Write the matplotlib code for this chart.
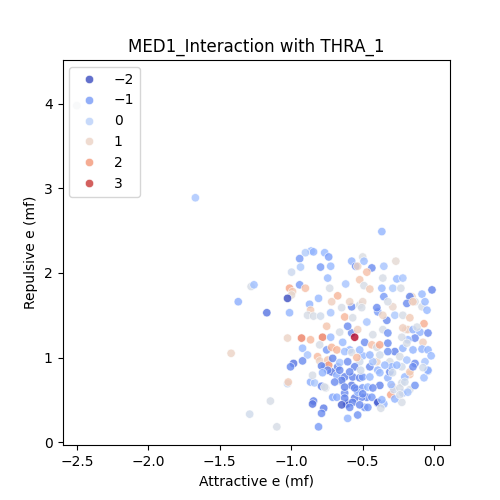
import matplotlib
matplotlib.use("Agg")
import matplotlib.pyplot as plt
import seaborn as sns
import numpy as np

title = "MED1_Interaction with THRA_1"
xlabel = "Attractive e (mf)"
ylabel = "Repulsive e (mf)"

pts = [
    # outliers
    (-2.50, 3.98, 0.5), (-1.67, 2.89, -0.3), (-1.42, 1.05, 1.0), (-1.37, 1.66, -0.7),
    (-1.29, 0.33, 0.4), (-1.10, 0.18, 0.5), (-1.28, 1.84, 0.5), (-1.26, 1.86, -0.4),
    (-1.17, 1.53, -1.5),
    # lower left
    (-1.025, 0.69, 0.2), (-1.02, 0.71, 1.2), (-1.145, 0.485, 0.5), (-0.864, 0.71, -0.7),
    (-0.836, 0.70, -0.2), (-0.85, 0.79, 0.5), (-0.787, 0.66, -1.3), (-0.758, 0.64, 0.5),
    (-0.716, 0.83, -1.5), (-0.709, 0.53, -0.8), (-0.843, 0.485, -1.3), (-0.85, 0.45, -1.5),
    (-0.772, 0.40, -1.4), (-0.787, 0.34, -1.2), (-0.808, 0.18, -1.0),
    # lower right
    (-0.68, 0.79, -0.7), (-0.646, 0.71, 0.5), (-0.625, 0.77, -1.3), (-0.569, 0.77, -1.3),
    (-0.576, 0.67, -1.4), (-0.52, 0.76, -1.3), (-0.50, 0.77, -1.0), (-0.54, 0.62, -1.4),
    (-0.50, 0.64, -1.0), (-0.463, 0.65, -0.5), (-0.47, 0.53, -1.2), (-0.506, 0.53, -1.2),
    (-0.435, 0.53, -1.0), (-0.555, 0.52, -1.4), (-0.625, 0.58, -1.2), (-0.604, 0.46, -2.0),
    (-0.61, 0.45, -1.6), (-0.569, 0.47, -1.3), (-0.485, 0.41, -1.1), (-0.463, 0.41, -1.0),
    (-0.393, 0.46, -1.4), (-0.393, 0.47, -1.8), (-0.351, 0.45, -0.6), (-0.372, 0.40, 0.5),
    (-0.379, 0.67, -1.3), (-0.323, 0.76, -0.6), (-0.309, 0.83, -1.2), (-0.288, 0.65, 1.3),
    (-0.302, 0.56, 1.8), (-0.281, 0.62, 0.3), (-0.225, 0.70, 0.5), (-0.218, 0.58, -0.6),
    (-0.169, 0.62, 0.5), (-0.133, 0.67, -1.1), (-0.169, 0.80, 1.3), (-0.204, 0.77, -0.5),
    (-0.07, 0.76, -0.4), (-0.042, 0.84, -0.7), (-0.225, 0.47, 0.5), (-0.274, 0.51, -0.6),
    (-0.604, 0.28, -0.6), (-0.534, 0.32, -1.1), (-0.68, 0.53, -0.7),
    # middle left
    (-1.011, 1.53, -0.6), (-0.871, 1.63, -0.6), (-0.864, 1.56, 1.2), (-0.885, 1.50, 0.5),
    (-0.843, 1.49, 0.5), (-0.794, 1.49, 0.4), (-0.723, 1.53, -0.3), (-0.716, 1.66, 1.1),
    (-0.751, 1.37, 1.3), (-1.025, 1.23, 1.0), (-0.927, 1.23, 2.3), (-0.864, 1.21, 1.5),
    (-0.78, 1.24, 2.3), (-0.80, 1.15, 0.5), (-0.723, 1.24, -0.5), (-0.92, 1.11, -0.5),
    (-0.885, 1.03, -0.3), (-0.92, 0.96, -1.2), (-0.983, 0.93, -1.5), (-1.004, 0.89, -1.2),
    (-0.815, 1.01, 1.5), (-0.80, 0.96, 1.0), (-0.751, 1.09, -1.0), (-0.744, 0.97, 1.3),
    (-0.765, 0.89, -0.6), (-0.737, 0.91, 2.0), (-0.716, 1.12, 1.6), (-0.709, 0.99, -1.3),
    (-0.787, 0.90, -1.3), (-0.744, 0.85, -1.2),
    # upper left
    (-0.86, 2.26, -0.5), (-0.843, 2.25, -0.6), (-0.90, 2.24, -0.1), (-0.765, 2.24, -0.5),
    (-0.737, 2.19, -0.9), (-0.94, 2.17, -1.0), (-0.934, 2.07, -0.2), (-0.794, 2.07, -1.0),
    (-0.723, 2.08, -0.5), (-0.997, 2.01, 0.3), (-1.011, 1.82, 1.8), (-0.99, 1.78, 1.2),
    (-0.997, 1.74, 0.8), (-0.94, 1.86, -1.0), (-0.90, 1.82, 1.4), (-0.744, 1.94, -0.5),
    (-0.73, 1.82, 0.5), (-1.025, 1.70, -2.0), (-0.808, 1.70, -0.5),
    # upper right
    (-0.365, 2.49, -0.6), (-0.576, 2.14, -0.6), (-0.548, 2.08, -1.2), (-0.534, 2.08, 1.0),
    (-0.499, 2.19, 0.6), (-0.49, 2.14, -0.4), (-0.435, 2.06, -1.2), (-0.47, 2.01, 1.4),
    (-0.351, 2.08, -0.3), (-0.267, 2.14, 0.8), (-0.618, 1.87, -0.3), (-0.52, 1.92, 1.3),
    (-0.49, 1.85, 0.5), (-0.449, 1.81, 1.2), (-0.358, 1.94, 0.5), (-0.365, 1.82, -0.5),
    (-0.26, 1.93, -0.5), (-0.218, 1.94, -0.3), (-0.288, 1.82, -0.2), (-0.232, 1.82, 0.5),
    (-0.351, 1.72, -1.0), (-0.154, 1.72, 1.0), (-0.169, 1.72, -1.3), (-0.084, 1.75, -0.5),
    (-0.014, 1.80, -1.3), (-0.674, 1.73, 1.6),
    # centre
    (-0.625, 1.48, 1.6), (-0.646, 1.59, 0.5), (-0.576, 1.60, -1.2), (-0.59, 1.66, 1.0),
    (-0.52, 1.62, 0.5), (-0.499, 1.66, 0.9), (-0.506, 1.59, 0.5), (-0.47, 1.42, -0.3),
    (-0.576, 1.29, -1.2), (-0.534, 1.33, 1.1), (-0.604, 1.37, -1.2),
    (-0.66, 1.30, 0.5), (-0.639, 1.18, -0.5), (-0.59, 1.09, -0.6), (-0.68, 1.09, 1.6),
    (-0.625, 1.07, -0.4), (-0.485, 1.18, -1.2), (-0.435, 1.15, 1.4), (-0.40, 1.12, 0.5),
    (-0.499, 1.02, -0.5), (-0.52, 0.95, 0.4), (-0.555, 0.89, -1.3), (-0.513, 0.85, 0.4),
    (-0.449, 0.89, -1.2), (-0.40, 0.95, 1.0), (-0.393, 0.85, -0.6), (-0.358, 1.33, 0.5),
    (-0.428, 1.27, 0.5), (-0.323, 1.29, -1.1), (-0.323, 1.17, -1.2), (-0.33, 1.44, -1.2),
    (-0.393, 1.54, -1.0), (-0.358, 1.50, 1.0), (-0.288, 1.60, 0.9), (-0.323, 1.66, 0.5),
    (-0.274, 1.50, -0.2), (-0.218, 1.50, 0.5), (-0.169, 1.47, 1.2), (-0.19, 1.64, -1.2),
    (-0.133, 1.66, 0.5), (-0.084, 1.60, 0.5), (-0.049, 1.56, -0.5), (-0.07, 1.40, 1.7),
    (-0.197, 1.33, 0.5), (-0.183, 1.33, 1.1), (-0.147, 1.33, -0.6), (-0.098, 1.30, -0.6),
    (-0.042, 1.29, -1.2), (-0.077, 1.18, 1.1), (-0.133, 1.23, -1.2), (-0.183, 1.21, -0.5),
    (-0.225, 1.24, 0.5), (-0.274, 1.07, -1.3), (-0.218, 1.11, -0.6), (-0.19, 1.17, 0.5),
    (-0.147, 1.09, -0.6), (-0.084, 1.10, -0.6), (-0.042, 1.09, -0.6), (-0.239, 1.01, 0.5),
    (-0.19, 0.97, -0.3), (-0.133, 0.93, -1.2), (-0.063, 0.95, -0.3), (-0.042, 0.85, -0.6),
    (-0.309, 0.95, 0.5), (-0.295, 0.89, -0.6), (-0.225, 0.89, 0.4), (-0.169, 0.83, 1.2),
    (-0.428, 0.95, -0.3), (-0.674, 0.89, -1.3),
    # extras
    (-0.569, 1.47, 0.5), (-0.40, 1.59, -1.2), (-0.147, 1.66, 1.2), (-0.063, 1.66, -0.5),
    (-0.119, 1.36, 0.5), (-0.218, 1.35, 1.1), (-0.78, 0.82, -0.6), (-0.765, 0.65, 0.5),
    (-0.646, 0.73, -1.3), (-0.625, 0.65, -1.3), (-0.534, 0.59, -0.6), (-0.239, 0.64, 0.5),
    (-0.204, 0.71, 0.4), (-0.077, 0.88, 0.4), (-0.147, 0.89, -1.2), (-0.183, 0.59, -0.3),
    (-0.02, 1.02, -0.5),
    # dense lower centre
    (-0.38, 1.15, 1.8), (-0.576, 1.06, 0.5), (-0.52, 1.09, -0.5), (-0.449, 1.03, -0.6),
    (-0.379, 1.03, 0.4), (-0.323, 1.07, -1.1), (-0.66, 0.94, -0.3), (-0.604, 0.95, -1.2),
    (-0.54, 1.00, 1.5), (-0.344, 0.91, -0.5), (-0.26, 0.91, -0.5), (-0.66, 0.85, -1.2),
    (-0.59, 0.83, -1.2), (-0.449, 0.77, -0.5), (-0.379, 0.82, -0.5), (-0.29, 0.82, 0.4),
    (-0.695, 0.71, -1.2), (-0.555, 0.64, -1.2), (-0.428, 0.64, -1.2), (-0.30, 0.68, -0.5),
    (-0.239, 0.56, 0.5), (-0.625, 0.52, -1.3), (-0.499, 0.57, -1.2), (-0.365, 0.50, -0.6),
    (-0.646, 0.44, -1.8), (-0.59, 0.41, -1.2), (-0.52, 0.44, -1.2),
    (-0.555, 1.24, 3.3),
]

attractive = np.array([p[0] for p in pts])
repulsive = np.array([p[1] for p in pts])
hue_vals = np.array([p[2] for p in pts])

fig, ax = plt.subplots(figsize=(5, 5), dpi=100)
sns.scatterplot(x=attractive, y=repulsive, hue=hue_vals, palette="coolwarm",
                alpha=0.8, ax=ax)
ax.set_xlim(-2.6, 0.112)
ax.set_ylim(-0.035, 4.52)
ax.set_title(title)
ax.set_xlabel(xlabel)
ax.set_ylabel(ylabel)
sns.move_legend(ax, "upper left")
fig.savefig("out.png", dpi=100)
